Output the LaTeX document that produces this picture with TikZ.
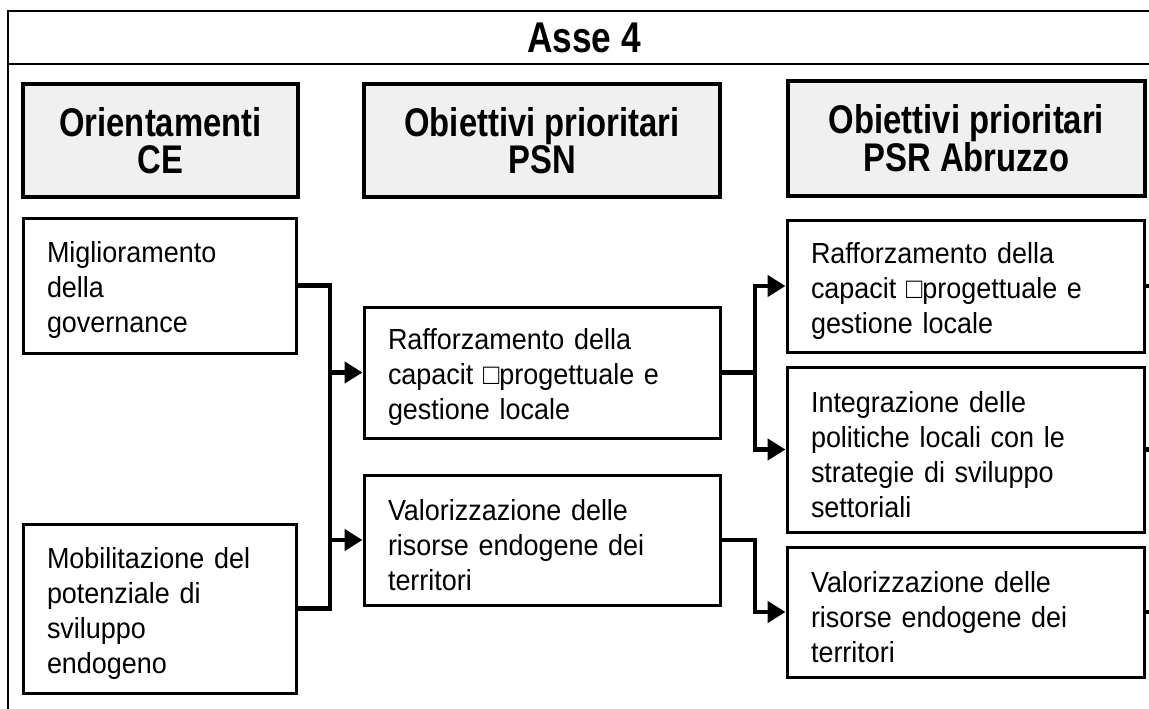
\documentclass[tikz,border=0pt]{standalone}
\usepackage{fontspec}
\setmainfont{Liberation Sans}[FakeStretch=0.93]
\newfontfamily\headfont{Liberation Sans}[FakeStretch=0.82]
\usetikzlibrary{arrows.meta}
\definecolor{headgray}{RGB}{240,240,240}
\newcommand\topgap{\rule{0pt}{31pt}}
\tikzset{
  frame/.style={line width=1.8},
  title/.style={font=\headfont\bfseries\fontsize{43}{45}\selectfont},
  header/.style={draw, line width=4.5, fill=headgray, align=center, inner sep=0,
    font=\headfont\bfseries\fontsize{40}{37}\selectfont},
  goal/.style={draw, line width=3, align=left, inner xsep=24, inner ysep=0,
    font=\fontsize{29}{35}\selectfont},
  bus/.style={line width=4.5}
}

\begin{document}
\begin{tikzpicture}[x=1pt,y=-1pt,>={Triangle[length=18pt,width=21pt]}]

\useasboundingbox (0,0) rectangle (1149,709);

\draw[frame] (8,709) -- (8,11) -- (1149,11);
\draw[frame] (8,64) -- (1149,64);
\node[title] (asse) at (584,38) {Asse 4};

\node[header, minimum width=275, minimum height=113] (orient) at (160.5,140.5) {Orientamenti\\CE};
\node[header, minimum width=356, minimum height=113] (psn) at (542,140.5) {Obiettivi prioritari\\PSN};
\node[header, minimum width=357, minimum height=115] (psr) at (966.5,138.5) {Obiettivi prioritari\\PSR Abruzzo};

\node[goal, text width=225, minimum height=135] (gov) at (159.5,285.5) {\topgap Miglioramento\\della\\governance};
\node[goal, text width=225, minimum height=169] (mob) at (159.5,608.5) {\topgap Mobilitazione del\\potenziale di\\sviluppo\\endogeno};

\node[goal, text width=308, minimum height=131] (raf) at (542,372.5) {\topgap Rafforzamento della\\capacit □progettuale e\\gestione locale};
\node[goal, text width=308, minimum height=130] (val) at (542,540) {\topgap Valorizzazione delle\\risorse endogene dei\\territori};

\node[goal, text width=309, minimum height=132] (rafR) at (965.5,286) {\topgap Rafforzamento della\\capacit □progettuale e\\gestione locale};
\node[goal, text width=309, minimum height=165] (intR) at (965.5,449.5) {\topgap Integrazione delle\\politiche locali con le\\strategie di sviluppo\\settoriali};
\node[goal, text width=309, minimum height=130] (valR) at (965.5,612) {\topgap Valorizzazione delle\\risorse endogene dei\\territori};

\coordinate (busL) at (330,0);
\coordinate (busR) at (755,0);
\coordinate (rim) at (1149,0);

\draw[bus] (gov.east) -| (busL |- mob.east) -- (mob.east);
\draw[bus,->] (busL |- raf.west) -- (raf.west);
\draw[bus,->] (busL |- val.west) -- (val.west);

\draw[bus,->] (raf.east) -| (busR |- rafR.west) -- (rafR.west);
\draw[bus,->] (raf.east) -| (busR |- intR.west) -- (intR.west);
\draw[bus,->] (val.east) -| (busR |- valR.west) -- (valR.west);

\draw[bus] (rafR.east) -- (rafR.east -| rim);
\draw[bus] (intR.east) -- (intR.east -| rim);
\draw[bus] (valR.east) -- (valR.east -| rim);

\end{tikzpicture}
\end{document}
